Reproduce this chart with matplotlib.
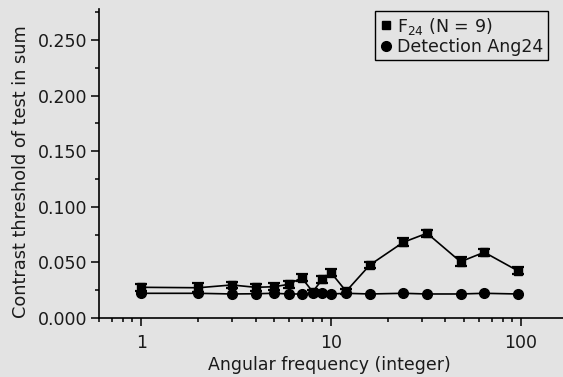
import matplotlib
matplotlib.use("Agg")
import matplotlib.pyplot as plt
from matplotlib.lines import Line2D
from matplotlib.ticker import MultipleLocator, FixedLocator, FixedFormatter, LogLocator, NullFormatter

# ── data ─────────────────────────────────────
freq = [1, 2, 3, 4, 5, 6, 7, 8, 9, 10, 12, 16, 24, 32, 48, 64, 96]
f24 = [0.0276, 0.0272, 0.0297, 0.0276, 0.0281, 0.0303, 0.0362, 0.0236, 0.0348,
       0.0407, 0.0240, 0.0477, 0.0681, 0.0762, 0.0506, 0.0591, 0.0425]
f24_err = [0.003, 0.004, 0.003, 0.003, 0.003, 0.003, 0.003, 0.002, 0.003,
           0.003, 0.002, 0.003, 0.0035, 0.003, 0.004, 0.003, 0.003]
detect = [0.0222, 0.0222, 0.0216, 0.0218, 0.0222, 0.0216, 0.0216, 0.0222, 0.0222,
          0.0216, 0.0222, 0.0216, 0.0222, 0.0216, 0.0216, 0.0222, 0.0216]
labels = ["F$_{24}$ (N = 9)", "Detection Ang24"]

BG = "#e3e3e3"
FG = "#1a1a1a"
plt.rcParams["font.family"] = ["DejaVu Sans"]
plt.rcParams["mathtext.fontset"] = "dejavusans"

fig = plt.figure(figsize=(5.63, 3.77), dpi=100, facecolor=BG)
ax = fig.add_axes([99 / 563, 1 - 318 / 377, 1 - 99 / 563 + 0.01, (318 - 9) / 377])
ax.set_facecolor(BG)

ax.errorbar(freq, f24, yerr=f24_err, color="black", lw=1.2, marker="s", ms=6,
            capsize=4.5, capthick=1.6, elinewidth=1.2, zorder=3)
ax.plot(freq, detect, color="black", lw=1.2, marker="o", ms=7, zorder=4)

ax.set_xscale("log")
ax.set_xlim(0.6, 178)
ax.set_ylim(0, 0.2778)

ax.xaxis.set_major_locator(FixedLocator([1, 10, 100]))
ax.xaxis.set_major_formatter(FixedFormatter(["1", "10", "100"]))
ax.xaxis.set_minor_locator(LogLocator(base=10, subs=range(2, 10)))
ax.xaxis.set_minor_formatter(NullFormatter())
ax.yaxis.set_major_locator(MultipleLocator(0.05))
ax.yaxis.set_minor_locator(MultipleLocator(0.025))
ax.yaxis.set_major_formatter(plt.FuncFormatter(lambda v, p: f"{v:.3f}"))

for s in ("top", "right"):
    ax.spines[s].set_visible(False)
for s in ("left", "bottom"):
    ax.spines[s].set_linewidth(1.2)

ax.tick_params(which="major", length=5.5, width=1.1, labelsize=12.5, pad=3,
               labelcolor=FG)
ax.tick_params(which="minor", length=3.2, width=1.1)
ax.tick_params(axis="x", which="major", pad=6)

ax.set_xlabel("Angular frequency (integer)", fontsize=12.5, color=FG)
ax.xaxis.set_label_coords(0.4915, -0.122)
ax.set_ylabel("Contrast threshold of test in sum", fontsize=12.8, color=FG)
ax.yaxis.set_label_coords(-0.147, 0.474)

h1 = Line2D([], [], color="black", marker="s", ls="none", ms=5.5)
h2 = Line2D([], [], color="black", marker="o", ms=7, ls="none")
leg = ax.legend([h1, h2], labels, loc="upper right",
                bbox_to_anchor=(548 / 563, 1 - 11 / 377),
                bbox_transform=fig.transFigure,
                fontsize=12.5, frameon=True, fancybox=False,
                handlelength=0.7, handletextpad=0.3, borderpad=0.26,
                labelspacing=0.08, borderaxespad=0)
for t in leg.get_texts():
    t.set_color(FG)
leg.get_frame().set_edgecolor("black")
leg.get_frame().set_facecolor(BG)
leg.get_frame().set_linewidth(1.0)
leg.get_frame().set_alpha(1)

fig.savefig("out.png", dpi=100, facecolor=BG)
